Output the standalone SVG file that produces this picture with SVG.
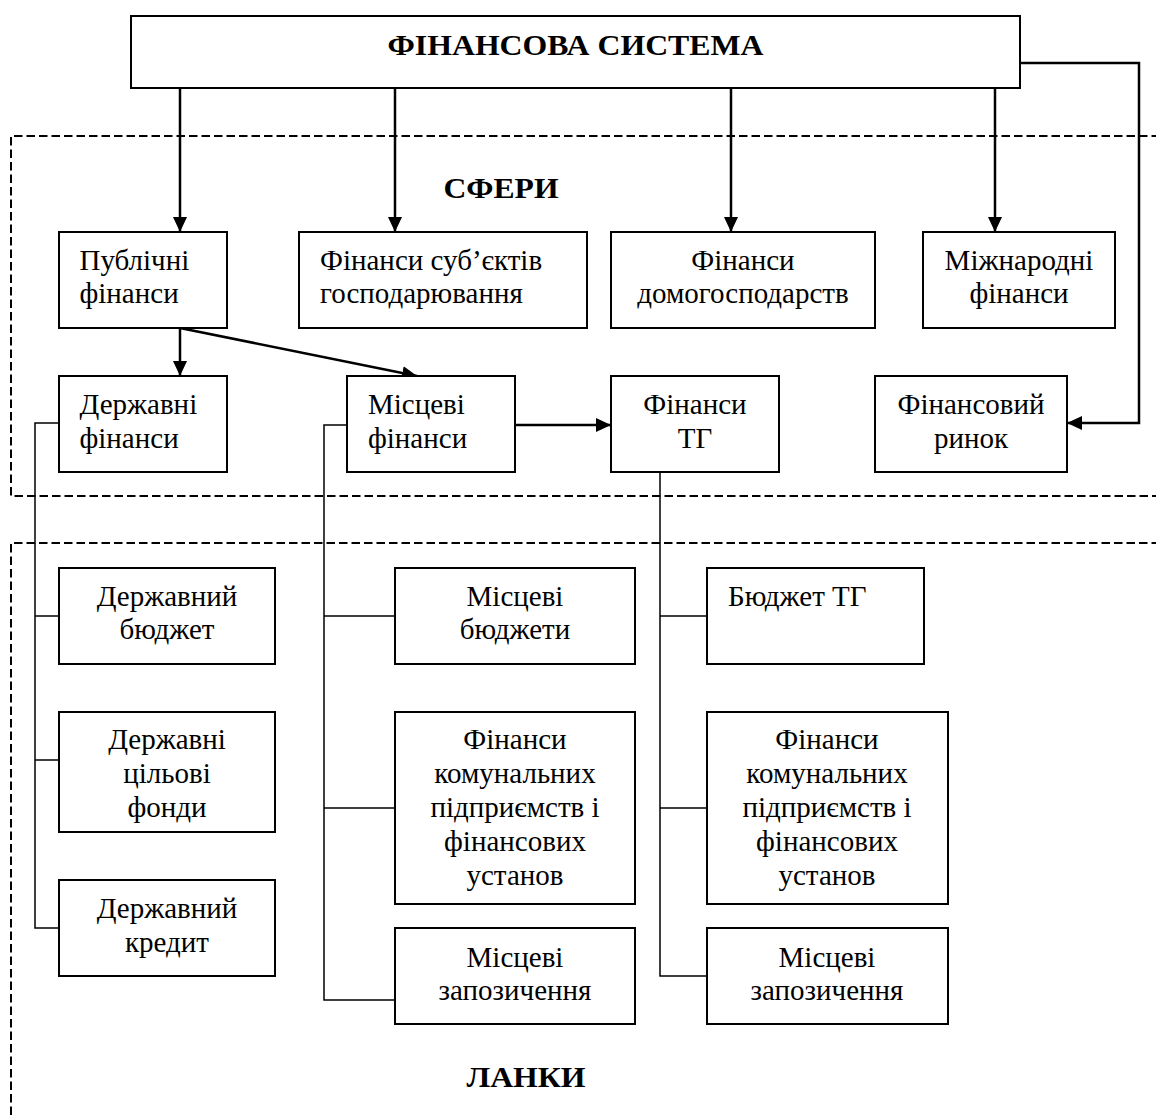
<svg xmlns="http://www.w3.org/2000/svg" width="1156" height="1118" viewBox="0 0 1156 1118">
<defs>
<style>
.box{fill:#fff;stroke:#000;stroke-width:2}
.t{font-family:"Liberation Serif","Times New Roman",serif;font-size:29px;fill:#000}
.c{text-anchor:middle}
.b{font-weight:bold;font-size:29px}
.arr{fill:none;stroke:#000;stroke-width:2.5;marker-end:url(#ah)}
.tree{fill:none;stroke:#000;stroke-width:1.5}
.dash{fill:none;stroke:#000;stroke-width:2;stroke-dasharray:8.5 4}
</style>
<marker id="ah" markerUnits="userSpaceOnUse" markerWidth="15" markerHeight="14" refX="15" refY="7" orient="auto">
<path d="M0,0 L15,7 L0,14 z" fill="#000"/>
</marker>
</defs>
<rect width="1156" height="1118" fill="#fff"/>
<g id="areas">
<path class="dash" d="M1160 136 H11 V496 H1160"/>
<path class="dash" d="M1160 543 H11 V1122"/>
<text class="t b c" x="501" y="198" textLength="115" lengthAdjust="spacingAndGlyphs">СФЕРИ</text>
<text class="t b c" x="526" y="1087" textLength="119" lengthAdjust="spacingAndGlyphs">ЛАНКИ</text>
</g>
<g id="connectors">
<path class="arr" d="M180 88 V232"/>
<path class="arr" d="M395 88 V232"/>
<path class="arr" d="M731 88 V232"/>
<path class="arr" d="M995 88 V232"/>
<path class="arr" d="M1020 63 H1139 V423 H1067"/>
<path class="arr" d="M180 328 V376"/>
<path class="arr" d="M180 328 L417 376"/>
<path class="arr" d="M515 425 H611"/>
<path class="tree" d="M59 423 H35 V928 H59 M35 616 H59 M35 760 H59"/>
<path class="tree" d="M347 425 H324 V1000 H395 M324 616 H395 M324 808 H395"/>
<path class="tree" d="M660 472 V976 H707 M660 616 H707 M660 808 H707"/>
</g>
<g id="n-system"><rect class="box" x="131" y="16" width="889" height="72"/><text class="t b c" x="575.5" y="55" textLength="376" lengthAdjust="spacingAndGlyphs">ФІНАНСОВА СИСТЕМА</text></g>
<g id="n-public"><rect class="box" x="59" y="232" width="168" height="96"/><text class="t" x="79.5" y="270">Публічні</text><text class="t" x="79.5" y="303">фінанси</text></g>
<g id="n-business"><rect class="box" x="299" y="232" width="288" height="96"/><text class="t" x="320" y="270">Фінанси суб’єктів</text><text class="t" x="320" y="303">господарювання</text></g>
<g id="n-households"><rect class="box" x="611" y="232" width="264" height="96"/><text class="t c" x="743" y="270">Фінанси</text><text class="t c" x="743" y="303">домогосподарств</text></g>
<g id="n-international"><rect class="box" x="923" y="232" width="192" height="96"/><text class="t c" x="1019" y="270">Міжнародні</text><text class="t c" x="1019" y="303">фінанси</text></g>
<g id="n-state"><rect class="box" x="59" y="376" width="168" height="96"/><text class="t" x="79.5" y="414">Державні</text><text class="t" x="79.5" y="448">фінанси</text></g>
<g id="n-local"><rect class="box" x="347" y="376" width="168" height="96"/><text class="t" x="368" y="414">Місцеві</text><text class="t" x="368" y="448">фінанси</text></g>
<g id="n-tg"><rect class="box" x="611" y="376" width="168" height="96"/><text class="t c" x="695" y="414">Фінанси</text><text class="t c" x="695" y="448">ТГ</text></g>
<g id="n-market"><rect class="box" x="875" y="376" width="192" height="96"/><text class="t c" x="971" y="414">Фінансовий</text><text class="t c" x="971" y="448">ринок</text></g>
<g id="n-statebudget"><rect class="box" x="59" y="568" width="216" height="96"/><text class="t c" x="167" y="606">Державний</text><text class="t c" x="167" y="639">бюджет</text></g>
<g id="n-statefunds"><rect class="box" x="59" y="712" width="216" height="120"/><text class="t c" x="167" y="749">Державні</text><text class="t c" x="167" y="783">цільові</text><text class="t c" x="167" y="817">фонди</text></g>
<g id="n-statecredit"><rect class="box" x="59" y="880" width="216" height="96"/><text class="t c" x="167" y="918">Державний</text><text class="t c" x="167" y="952">кредит</text></g>
<g id="n-localbudgets"><rect class="box" x="395" y="568" width="240" height="96"/><text class="t c" x="515" y="606">Місцеві</text><text class="t c" x="515" y="639">бюджети</text></g>
<g id="n-localcommunal"><rect class="box" x="395" y="712" width="240" height="192"/><text class="t c" x="515" y="749">Фінанси</text><text class="t c" x="515" y="783">комунальних</text><text class="t c" x="515" y="817">підприємств і</text><text class="t c" x="515" y="851">фінансових</text><text class="t c" x="515" y="885">установ</text></g>
<g id="n-localborrow"><rect class="box" x="395" y="928" width="240" height="96"/><text class="t c" x="515" y="967">Місцеві</text><text class="t c" x="515" y="1000">запозичення</text></g>
<g id="n-tgbudget"><rect class="box" x="707" y="568" width="217" height="96"/><text class="t" x="728" y="606">Бюджет ТГ</text></g>
<g id="n-tgcommunal"><rect class="box" x="707" y="712" width="241" height="192"/><text class="t c" x="827" y="749">Фінанси</text><text class="t c" x="827" y="783">комунальних</text><text class="t c" x="827" y="817">підприємств і</text><text class="t c" x="827" y="851">фінансових</text><text class="t c" x="827" y="885">установ</text></g>
<g id="n-tgborrow"><rect class="box" x="707" y="928" width="241" height="96"/><text class="t c" x="827" y="967">Місцеві</text><text class="t c" x="827" y="1000">запозичення</text></g>
</svg>
